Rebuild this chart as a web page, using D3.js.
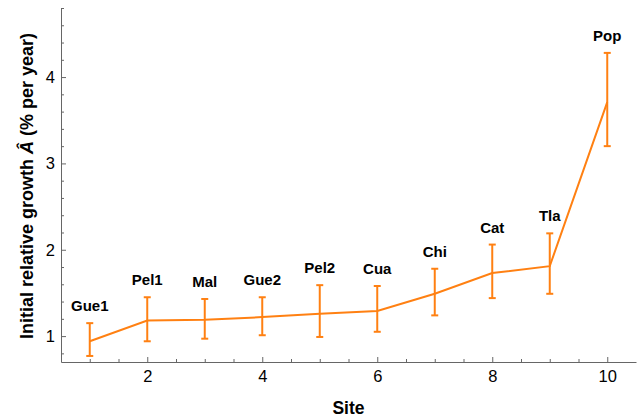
<!DOCTYPE html>
<html>
<head>
<meta charset="utf-8">
<script src="https://cdn.jsdelivr.net/npm/d3@7"></script>
<style>
	body { margin: 0; background: #fff; }
	svg { display: block; font-family: "Liberation Sans", Arial, sans-serif; }
	.axis path, .axis line { stroke: #666; }
	.axis text { font-size: 16.5px; fill: #000; }
</style>
</head>
<body>
<svg class="canvas" width="640" height="419"></svg>
<script>
var sites = ['Gue1', 'Pel1', 'Mal', 'Gue2', 'Pel2', 'Cua', 'Chi', 'Cat', 'Tla', 'Pop'];
var growth = [0.94, 1.18, 1.19, 1.22, 1.26, 1.29, 1.49, 1.73, 1.81, 3.71];
var lower = [0.77, 0.94, 0.97, 1.01, 0.99, 1.05, 1.24, 1.44, 1.49, 3.20];
var upper = [1.15, 1.45, 1.43, 1.45, 1.59, 1.58, 1.78, 2.06, 2.19, 4.28];
var xTicks = [2, 4, 6, 8, 10];
var yTicks = [1, 2, 3, 4];

var svg = d3.select('.canvas');
var plot_left = 61, plot_right = 636, plot_top = 8, plot_bottom = 362;
var orange = '#ff8012';

var x = d3.scaleLinear().domain([0.5, 10.5]).range([plot_left, plot_right]);
var y = d3.scaleLinear().domain([0.7, 4.8]).range([plot_bottom, plot_top]);

var points = sites.map(function(s, i) {
	return { site: s, idx: i + 1, v: growth[i], lo: lower[i], hi: upper[i] };
});

// minor ticks
var xMinor = d3.range(1, 10.5, 0.5).filter(function(t) { return xTicks.indexOf(t) < 0; });
var yMinor = d3.range(0.8, 4.81, 0.2).map(function(t) { return Math.round(t * 10) / 10; })
	.filter(function(t) { return yTicks.indexOf(t) < 0; });

svg.append('g').attr('class', 'axis')
	.attr('transform', 'translate(0,' + plot_bottom + ')')
	.call(d3.axisBottom(x).tickValues(xMinor).tickSize(-3).tickFormat(''))
	.select('.domain').remove();
svg.append('g').attr('class', 'axis')
	.attr('transform', 'translate(0,' + plot_bottom + ')')
	.call(d3.axisBottom(x).tickValues(xTicks).tickSize(-5).tickSizeOuter(0).tickPadding(8).tickFormat(d3.format('d')));

svg.append('g').attr('class', 'axis')
	.attr('transform', 'translate(' + plot_left + ',0)')
	.call(d3.axisLeft(y).tickValues(yMinor).tickSize(-3).tickFormat(''))
	.select('.domain').remove();
svg.append('g').attr('class', 'axis')
	.attr('transform', 'translate(' + plot_left + ',0)')
	.call(d3.axisLeft(y).tickValues(yTicks).tickSize(-5).tickSizeOuter(0).tickPadding(6).tickFormat(d3.format('d')));

// line
svg.append('path')
	.datum(points)
	.attr('fill', 'none')
	.attr('stroke', orange)
	.attr('stroke-width', 2)
	.attr('d', d3.line().x(function(d) { return x(d.idx); }).y(function(d) { return y(d.v); }));

// error bars
var bars = svg.append('g').selectAll('g')
	.data(points)
	.enter().append('g')
	.attr('stroke', orange)
	.attr('stroke-width', 2);

bars.append('line')
	.attr('x1', function(d) { return x(d.idx); })
	.attr('x2', function(d) { return x(d.idx); })
	.attr('y1', function(d) { return y(d.lo); })
	.attr('y2', function(d) { return y(d.hi); });
bars.append('line')
	.attr('x1', function(d) { return x(d.idx) - 3.5; })
	.attr('x2', function(d) { return x(d.idx) + 3.5; })
	.attr('y1', function(d) { return y(d.lo); })
	.attr('y2', function(d) { return y(d.lo); });
bars.append('line')
	.attr('x1', function(d) { return x(d.idx) - 3.5; })
	.attr('x2', function(d) { return x(d.idx) + 3.5; })
	.attr('y1', function(d) { return y(d.hi); })
	.attr('y2', function(d) { return y(d.hi); });

// site labels
svg.append('g').selectAll('text')
	.data(points)
	.enter().append('text')
	.attr('x', function(d) { return x(d.idx); })
	.attr('y', function(d) { return y(d.hi) - 12; })
	.attr('text-anchor', 'middle')
	.attr('font-size', 15)
	.attr('font-weight', 'bold')
	.text(function(d) { return d.site; });

// axis titles
svg.append('text')
	.attr('x', (plot_left + plot_right) / 2)
	.attr('y', 414)
	.attr('text-anchor', 'middle')
	.attr('font-size', 17.5)
	.attr('font-weight', 'bold')
	.text('Site');

var ytitle = svg.append('text')
	.attr('transform', 'translate(33,186) rotate(-90)')
	.attr('text-anchor', 'middle')
	.attr('font-size', 18)
	.attr('font-weight', 'bold');
ytitle.append('tspan').text('Initial relative growth ');
ytitle.append('tspan').attr('font-style', 'italic').text('Â');
ytitle.append('tspan').text(' (% per year)');
</script>
</body>
</html>
